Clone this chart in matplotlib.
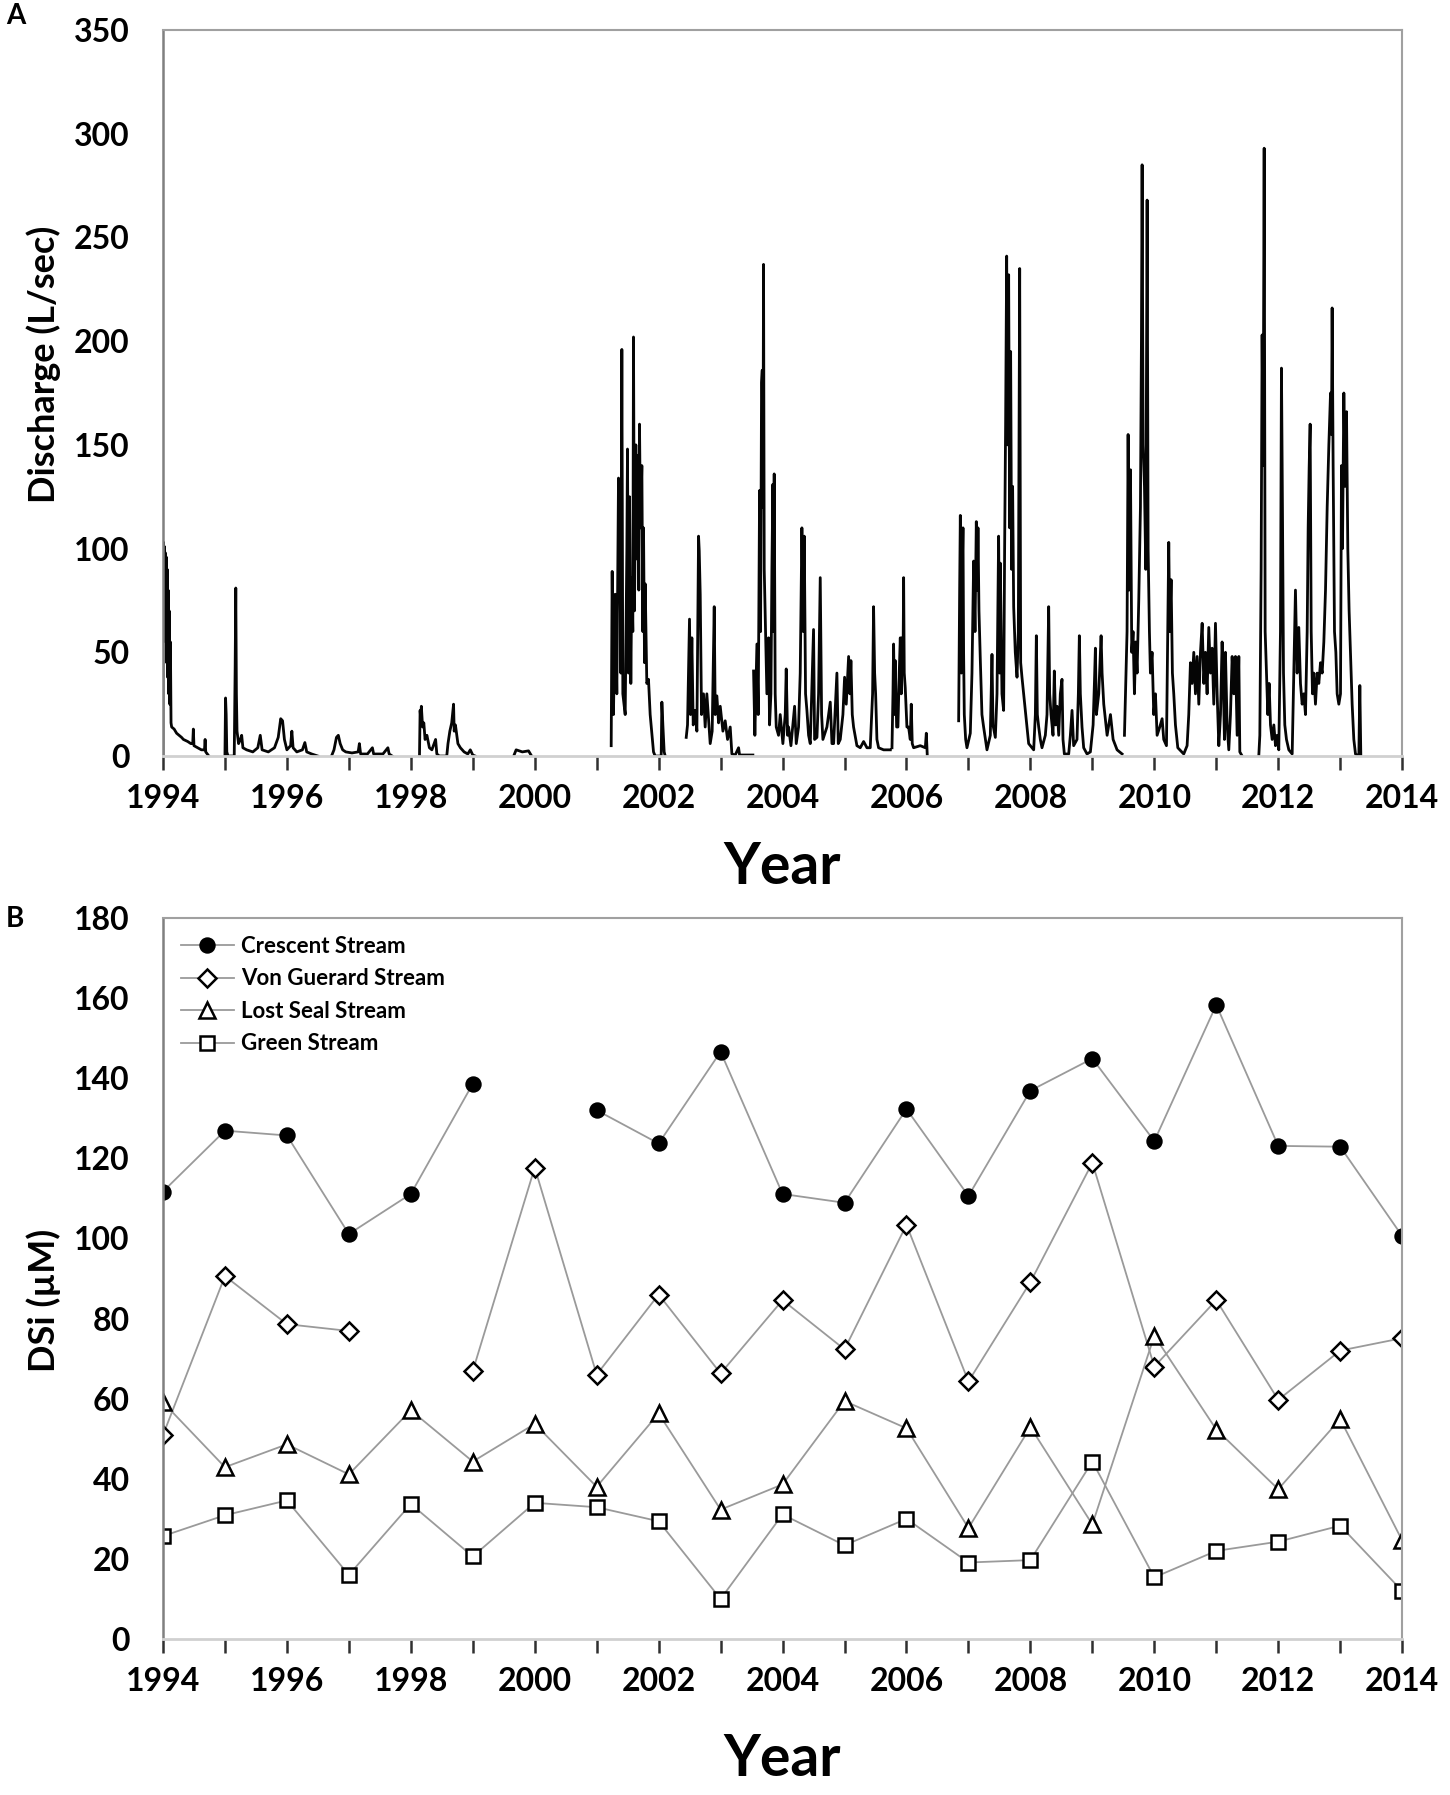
import numpy as np
import matplotlib
matplotlib.use("Agg")
import matplotlib.pyplot as plt

plt.rcParams['font.family'] = ['Lato', 'DejaVu Sans']
plt.rcParams['font.weight'] = 'bold'

# ---- panel A: stream discharge (L/sec), decimal years ----
S1994_T = [1994.000, 1994.003, 1994.010, 1994.017, 1994.023, 1994.030, 1994.037, 1994.045,
           1994.052, 1994.060, 1994.068, 1994.075, 1994.083, 1994.092, 1994.100, 1994.110,
           1994.120, 1994.130, 1994.140, 1994.180, 1994.220, 1994.260, 1994.300, 1994.330,
           1994.400, 1994.450, 1994.480, 1994.490, 1994.500, 1994.560, 1994.620, 1994.670,
           1994.680, 1994.690, 1994.740]
S1994_Q = [0, 95, 103, 78, 101, 66, 98, 55, 96, 45, 90, 38, 80, 30, 70, 25, 55, 16, 14, 13,
           11, 10, 9, 8, 7, 6, 6, 13, 5, 4, 3, 3, 8, 2, 0]

S1995_T = [1995.000, 1995.010, 1995.020, 1995.030, 1995.050, 1995.150, 1995.165, 1995.175,
           1995.185, 1995.195, 1995.220, 1995.250, 1995.270, 1995.290, 1995.350, 1995.450,
           1995.530, 1995.570, 1995.600, 1995.700, 1995.800, 1995.860, 1995.900, 1995.930,
           1995.960, 1996.000, 1996.060, 1996.080, 1996.100, 1996.160, 1996.250, 1996.290,
           1996.320, 1996.400, 1996.500]
S1995_Q = [0, 28, 20, 2, 0, 0, 43, 81, 30, 12, 6, 8, 10, 4, 3, 2, 4, 10, 3, 2, 4, 9, 18, 17,
           8, 3, 5, 12, 4, 2, 3, 6.5, 2, 1, 0]

S1997_T = [1996.720, 1996.760, 1996.800, 1996.830, 1996.860, 1996.900, 1996.950, 1997.050,
           1997.150, 1997.170, 1997.190, 1997.300, 1997.380, 1997.400, 1997.550, 1997.630,
           1997.650, 1997.700]
S1997_Q = [0, 3, 9, 10, 6, 3, 2, 1.5, 2, 6, 1, 1, 4, 1, 1, 4, 1, 0]

S1998_T = [1998.140, 1998.150, 1998.160, 1998.170, 1998.190, 1998.210, 1998.230, 1998.260,
           1998.300, 1998.340, 1998.400, 1998.420, 1998.460, 1998.580, 1998.600, 1998.630,
           1998.660, 1998.690, 1998.700, 1998.720, 1998.760, 1998.800, 1998.860, 1998.920,
           1998.960, 1999.000, 1999.040]
S1998_Q = [0, 22, 18, 24, 14, 16, 8, 10, 4, 3, 8, 1, 0, 0, 6, 12, 16, 25, 12, 15, 6, 4, 2, 1,
           3, 0.5, 0]

S1999_T = [1999.660, 1999.700, 1999.800, 1999.900, 1999.930, 1999.950]
S1999_Q = [0, 3, 2, 2.5, 1, 0]

S2001_T = [2001.234, 2001.250, 2001.271, 2001.298, 2001.325, 2001.352, 2001.368, 2001.390,
           2001.406, 2001.422, 2001.460, 2001.487, 2001.497, 2001.513, 2001.530, 2001.551,
           2001.567, 2001.583, 2001.594, 2001.610, 2001.632, 2001.648, 2001.664, 2001.680,
           2001.691, 2001.707, 2001.729, 2001.745, 2001.756, 2001.772, 2001.783, 2001.809,
           2001.836, 2001.863, 2001.890, 2001.917, 2001.944, 2002.041, 2002.052, 2002.068,
           2002.089, 2002.106]
S2001_Q = [5, 89, 20, 78, 30, 134, 125, 40, 196, 30, 20, 100, 148, 40, 125, 35, 86, 60, 202,
           70, 150, 95, 145, 80, 160, 110, 140, 60, 110, 45, 83, 35, 37, 20, 11, 2, 0, 0, 26,
           15, 2, 0]

S2002_T = [2002.445, 2002.466, 2002.498, 2002.515, 2002.536, 2002.558, 2002.590, 2002.617,
           2002.644, 2002.655, 2002.671, 2002.692, 2002.724, 2002.751, 2002.778, 2002.832,
           2002.864, 2002.897, 2002.913, 2002.940, 2002.967, 2002.994, 2003.037, 2003.074,
           2003.112, 2003.155, 2003.182, 2003.236, 2003.290, 2003.306, 2003.521]
S2002_Q = [9, 15, 66, 20, 57, 15, 22, 12, 106, 99, 78, 20, 30, 14, 30, 6, 12, 72, 20, 29, 16,
           24, 12, 17, 8, 14, 1, 0.5, 4, 0.5, 0.5]

S2003_T = [2003.532, 2003.553, 2003.586, 2003.607, 2003.629, 2003.645, 2003.661, 2003.672,
           2003.683, 2003.693, 2003.704, 2003.720, 2003.747, 2003.774, 2003.790, 2003.812,
           2003.828, 2003.844, 2003.855, 2003.865, 2003.881, 2003.898, 2003.935, 2003.962,
           2004.005, 2004.043, 2004.059, 2004.081, 2004.097, 2004.135, 2004.194, 2004.221,
           2004.258, 2004.285, 2004.312, 2004.334, 2004.350, 2004.371, 2004.393, 2004.420,
           2004.447, 2004.500, 2004.517, 2004.555, 2004.581, 2004.608, 2004.630, 2004.651,
           2004.716, 2004.770, 2004.797, 2004.824, 2004.877, 2004.899, 2004.931, 2004.974,
           2005.001, 2005.028, 2005.066, 2005.087, 2005.103, 2005.125, 2005.146, 2005.200,
           2005.254, 2005.308, 2005.362, 2005.415, 2005.453, 2005.469, 2005.486, 2005.502,
           2005.523, 2005.550, 2005.631, 2005.739]
S2003_Q = [41, 10, 54, 20, 128, 60, 180, 186, 120, 237, 90, 67, 30, 57, 15, 30, 90, 131, 60,
           136, 30, 14, 10, 20, 6, 20, 42, 10, 14, 5, 24, 6, 14, 40, 110, 60, 106, 30, 22, 10,
           6, 61, 8, 9, 30, 86, 20, 8, 14, 26, 6, 6, 40, 6, 8, 20, 38, 25, 48, 30, 46, 20, 14,
           5, 4, 7, 4, 4, 30, 72, 40, 30, 8, 4, 3, 3]

S2005_T = [2005.766, 2005.782, 2005.792, 2005.808, 2005.819, 2005.841, 2005.862, 2005.883,
           2005.900, 2005.916, 2005.926, 2005.943, 2005.954, 2005.964, 2005.980, 2006.007,
           2006.034, 2006.061, 2006.077, 2006.093, 2006.115, 2006.223, 2006.304, 2006.320,
           2006.330, 2006.336]
S2005_Q = [4, 30, 54, 20, 46, 14, 14, 40, 57, 30, 57, 40, 86, 40, 33, 14, 14, 8, 25, 6, 4, 5,
           4, 11, 4, 0]

S2007_T = [2006.842, 2006.858, 2006.869, 2006.885, 2006.901, 2006.912, 2006.922, 2006.933,
           2006.955, 2006.976, 2007.030, 2007.057, 2007.084, 2007.106, 2007.127, 2007.143,
           2007.154, 2007.170, 2007.192, 2007.218, 2007.245, 2007.299, 2007.353, 2007.380,
           2007.396, 2007.434, 2007.461, 2007.487, 2007.504, 2007.514, 2007.541, 2007.568,
           2007.584, 2007.600, 2007.617, 2007.633, 2007.649, 2007.665, 2007.681, 2007.697,
           2007.713, 2007.730, 2007.756, 2007.784, 2007.805, 2007.827, 2007.843, 2007.864,
           2007.891, 2007.918, 2007.945, 2007.972, 2008.053, 2008.080, 2008.096, 2008.112,
           2008.134, 2008.160, 2008.187, 2008.241, 2008.268, 2008.295, 2008.311, 2008.333,
           2008.365, 2008.386, 2008.408, 2008.430, 2008.457, 2008.483, 2008.510, 2008.526,
           2008.548, 2008.618, 2008.645, 2008.672, 2008.698, 2008.752, 2008.774, 2008.790,
           2008.806, 2008.833, 2008.860, 2008.914, 2008.968, 2009.012, 2009.033, 2009.049,
           2009.065, 2009.103, 2009.141, 2009.157, 2009.184, 2009.238, 2009.292, 2009.335,
           2009.399, 2009.480]
S2007_Q = [17, 80, 116, 40, 90, 110, 50, 20, 8, 4, 11, 40, 94, 60, 113, 80, 110, 70, 46, 20,
           14, 3, 10, 49, 15, 9, 30, 106, 40, 93, 30, 22, 100, 160, 241, 150, 232, 110, 195,
           90, 130, 72, 50, 38, 60, 235, 45, 38, 30, 22, 14, 6, 3, 20, 58, 20, 14, 8, 4, 10,
           20, 72, 30, 20, 10, 41, 15, 24, 10, 30, 37, 8, 1, 1, 10, 22, 5, 8, 30, 58, 30, 14,
           4, 1, 2, 15, 35, 52, 20, 30, 58, 40, 25, 10, 20, 8, 3, 1]

S2009_T = [2009.518, 2009.560, 2009.577, 2009.593, 2009.615, 2009.636, 2009.657, 2009.679,
           2009.700, 2009.722, 2009.749, 2009.776, 2009.792, 2009.803, 2009.819, 2009.841,
           2009.862, 2009.884, 2009.900, 2009.921, 2009.937, 2009.964, 2009.991, 2010.018,
           2010.045, 2010.088, 2010.126, 2010.152, 2010.196, 2010.217, 2010.233, 2010.249,
           2010.271, 2010.292, 2010.314, 2010.341, 2010.379, 2010.475, 2010.529, 2010.556,
           2010.583, 2010.610, 2010.637, 2010.664, 2010.691, 2010.718, 2010.745, 2010.772,
           2010.799, 2010.825, 2010.852, 2010.879, 2010.906, 2010.933, 2010.960, 2010.987,
           2011.014, 2011.041, 2011.068, 2011.094, 2011.110, 2011.132, 2011.148, 2011.175,
           2011.202, 2011.229, 2011.256, 2011.283, 2011.310, 2011.337, 2011.364, 2011.380,
           2011.418]
S2009_Q = [10, 60, 155, 80, 138, 50, 60, 30, 55, 40, 75, 120, 200, 285, 150, 130, 90, 268,
           100, 60, 40, 50, 20, 30, 10, 14, 18, 8, 5, 60, 103, 60, 85, 40, 30, 15, 4, 1, 5, 20,
           45, 35, 50, 30, 48, 25, 50, 64, 35, 50, 30, 62, 40, 52, 25, 64, 30, 5, 20, 55, 40,
           8, 50, 15, 3, 20, 48, 30, 48, 10, 48, 2, 0]

S2011_T = [2011.686, 2011.703, 2011.724, 2011.740, 2011.756, 2011.773, 2011.789, 2011.810,
           2011.832, 2011.853, 2011.875, 2011.902, 2011.929, 2011.956, 2011.982, 2012.009,
           2012.036, 2012.052, 2012.068, 2012.085, 2012.106, 2012.133, 2012.171, 2012.225,
           2012.252, 2012.278, 2012.305, 2012.332, 2012.359, 2012.386, 2012.413, 2012.440,
           2012.467, 2012.483, 2012.499, 2012.515, 2012.532, 2012.553, 2012.574, 2012.601,
           2012.628, 2012.655, 2012.682, 2012.709, 2012.736, 2012.763, 2012.790, 2012.817,
           2012.844, 2012.860, 2012.870, 2012.886, 2012.908, 2012.930, 2012.951, 2012.978,
           2013.005, 2013.021, 2013.037, 2013.059, 2013.080, 2013.102, 2013.123, 2013.144,
           2013.166, 2013.193, 2013.220, 2013.247, 2013.301, 2013.317, 2013.333]
S2011_Q = [0, 10, 90, 203, 140, 293, 60, 40, 20, 35, 15, 8, 15, 5, 10, 3, 60, 187, 120, 40,
           15, 8, 3, 1, 40, 80, 40, 62, 35, 25, 30, 20, 60, 110, 139, 160, 60, 30, 40, 25, 40,
           35, 45, 40, 55, 80, 120, 150, 175, 155, 216, 140, 60, 50, 30, 25, 30, 140, 100, 175,
           130, 166, 100, 70, 50, 25, 8, 1, 0, 34, 0]

SEASONS = [(S1994_T, S1994_Q), (S1995_T, S1995_Q), (S1997_T, S1997_Q), (S1998_T, S1998_Q),
           (S1999_T, S1999_Q), (S2001_T, S2001_Q), (S2002_T, S2002_Q), (S2003_T, S2003_Q),
           (S2005_T, S2005_Q), (S2007_T, S2007_Q), (S2009_T, S2009_Q), (S2011_T, S2011_Q)]

# ---- panel B: dissolved silica (uM) per year ----
YEARS = list(range(1994, 2015))
nan = np.nan
CRESCENT = [111.7, 126.9, 125.7, 101.1, 111.1, 138.6, nan, 132.0, 123.7, 146.6, 111.1,
            108.9, 132.3, 110.6, 136.9, 144.9, 124.3, 158.3, 123.1, 122.9, 100.6]
VON_GUERARD = [50.9, 90.6, 78.6, 76.9, nan, 66.9, 117.7, 66.0, 86.0, 66.3, 84.6, 72.3,
               103.4, 64.3, 89.1, 118.9, 68.0, 84.6, 59.7, 72.0, 75.1]
LOST_SEAL = [59.1, 42.9, 48.6, 41.1, 57.1, 44.3, 53.7, 38.0, 56.3, 32.3, 38.6, 59.4, 52.6,
             27.7, 52.9, 28.6, 75.7, 52.3, 37.4, 54.9, 24.6]
GREEN = [25.7, 30.9, 34.6, 16.0, 33.7, 20.6, 34.0, 32.9, 29.4, 10.0, 31.1, 23.4, 30.0, 19.1,
         19.7, 44.3, 15.4, 22.0, 24.3, 28.3, 12.0]

t_all, q_all = [], []
for t, q in SEASONS:
    t_all += list(t) + [nan]
    q_all += list(q) + [nan]

fig = plt.figure(figsize=(14.5, 17.95), dpi=100)
axA = fig.add_axes([0.1124, 0.5788, 0.8546, 0.4045])
axB = fig.add_axes([0.1124, 0.0869, 0.8546, 0.4017])

year_ticks = list(range(1994, 2015))
year_labels = [str(y) if y % 2 == 0 else '' for y in year_ticks]


def style(ax, xpad):
    for side in ['top', 'right']:
        ax.spines[side].set_color('#a0a0a0')
        ax.spines[side].set_linewidth(1.5)
    ax.spines['left'].set_color('#808080')
    ax.spines['left'].set_linewidth(1.8)
    ax.spines['bottom'].set_color('#d0d0d0')
    ax.spines['bottom'].set_linewidth(2.0)
    ax.set_xlim(1994, 2014)
    ax.set_xticks(year_ticks)
    ax.set_xticklabels(year_labels)
    ax.tick_params(axis='x', direction='out', length=10, width=1.8, color='#303030',
                   labelsize=23, pad=10)
    ax.tick_params(axis='y', length=0, labelsize=23, pad=24)
    ax.set_xlabel('Year', fontsize=41, fontweight='bold', labelpad=xpad)


axA.plot(t_all, q_all, color='#050505', lw=2.0)
axA.set_ylim(0, 350)
axA.set_yticks(range(0, 351, 50))
style(axA, 20)
axA.set_ylabel('Discharge (L/sec)', fontsize=26, fontweight='bold')
axA.yaxis.set_label_coords(-0.082, 0.54)

line_kw = dict(color='#9a9a9a', lw=1.3, markeredgecolor='black', markeredgewidth=1.8)
axB.plot(YEARS, CRESCENT, marker='o', markersize=10, markerfacecolor='black',
         label='Crescent Stream', **line_kw)
axB.plot(YEARS, VON_GUERARD, marker='D', markersize=9, markerfacecolor='white',
         label='Von Guerard Stream', **line_kw)
axB.plot(YEARS, LOST_SEAL, marker='^', markersize=11, markerfacecolor='white',
         label='Lost Seal Stream', **line_kw)
axB.plot(YEARS, GREEN, marker='s', markersize=10, markerfacecolor='white',
         label='Green Stream', **line_kw)
axB.set_ylim(0, 180)
axB.set_yticks(range(0, 181, 20))
style(axB, 27)
axB.set_ylabel('DSi (\u00b5M)', fontsize=26, fontweight='bold')
axB.yaxis.set_label_coords(-0.082, 0.47)
axB.legend(loc='upper left', frameon=False, fontsize=16, handlelength=2.4,
           labelspacing=0.52, borderaxespad=0.4, handletextpad=0.3,
           bbox_to_anchor=(0.0, 1.0))

fig.text(0.004, 0.991, 'A', fontsize=20, fontweight='bold', va='center')
fig.text(0.004, 0.488, 'B', fontsize=20, fontweight='bold', va='center')

fig.savefig('out.png', dpi=100)
